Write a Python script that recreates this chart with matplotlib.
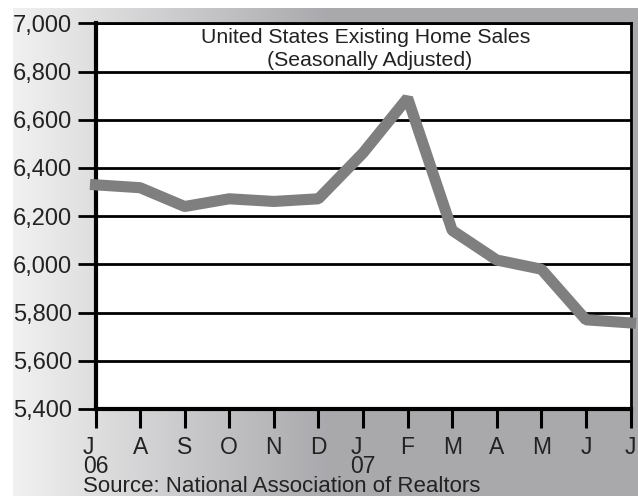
import numpy as np
import matplotlib
matplotlib.use("Agg")
import matplotlib.pyplot as plt
from matplotlib.patches import Rectangle

months = ['J', 'A', 'S', 'O', 'N', 'D', 'J', 'F', 'M', 'A', 'M', 'J', 'J']
years = ['06', '', '', '', '', '', '07', '', '', '', '', '', '']
sales = [6330, 6318, 6240, 6272, 6261, 6272, 6462, 6690, 6141, 6018, 5980, 5770, 5757]
yticks = [5400, 5600, 5800, 6000, 6200, 6400, 6600, 6800, 7000]
title1 = "United States Existing Home Sales"
title2 = "(Seasonally Adjusted)"
source = "Source: National Association of Realtors"

plt.rcParams['font.family'] = ['Liberation Sans', 'DejaVu Sans']

W, H = 638, 496
fig = plt.figure(figsize=(W / 100, H / 100), dpi=100)
fig.patch.set_facecolor('white')

# gradient background
bg = fig.add_axes([0, 0, 1, 1], zorder=-1)
bg.set_xlim(0, W)
bg.set_ylim(H, 0)
bg.axis('off')
xs = np.arange(13, W)
t = np.clip((xs - 13) / (330 - 13), 0, 1)
c0 = np.array([0.945, 0.945, 0.945])
c1 = np.array([0.663, 0.663, 0.678])
row = c0[None, :] * (1 - t[:, None]) + c1[None, :] * t[:, None]
img = np.repeat(row[None, :, :], 2, axis=0)
bg.imshow(img, extent=[13, W, H, 8], aspect='auto', interpolation='bilinear')

left, right, top, bottom = 95.5, 630.5, 23.3, 409
ax = fig.add_axes([left / W, 1 - bottom / H, (right - left) / W, (bottom - top) / H], zorder=1)
ax.set_facecolor('white')

x = np.arange(len(months))
ax.plot(x, sales, color='#7f7f7f', lw=8, solid_capstyle='projecting',
        solid_joinstyle='bevel', clip_on=False, zorder=3)

ax.set_xlim(0, len(months) - 1)
ax.set_ylim(5400, 7000)
ax.set_yticks(yticks)
ax.set_yticklabels([f"{v:,}" for v in yticks], fontsize=17, color='#222222')
labels = [m + ("\n" + y if y else "") for m, y in zip(months, years)]
ax.set_xticks(x)
ax.set_xticklabels(labels, fontsize=16.5, color='#222222', linespacing=0.76)
for lbl in ax.get_xticklabels():
    lbl.set_multialignment('left')

ax.set_axisbelow(True)
ax.grid(axis='y', color='black', lw=2)
ax.tick_params(axis='y', length=13, width=2, pad=4, color='black')
ax.tick_params(axis='x', length=13.5, width=2.2, pad=6, color='black')
for s in ['top', 'right']:
    ax.spines[s].set_linewidth(2)
for s in ['left', 'bottom']:
    ax.spines[s].set_linewidth(3)

fig.text(366 / W, 1 - 43.3 / H, title1, ha='center', va='baseline', fontsize=15.3, color='#222222', zorder=5)
fig.text(370 / W, 1 - 66.5 / H, title2, ha='center', va='baseline', fontsize=15.3, color='#222222', zorder=5)
fig.text(83 / W, 1 - 492 / H, source, ha='left', va='baseline', fontsize=16, color='#222222', zorder=5)

# clip left edge
fig.patches.append(Rectangle((0, 0), 12.5 / W, 1, transform=fig.transFigure,
                             facecolor='white', edgecolor='none', zorder=10))

fig.savefig('out.png', dpi=100)
